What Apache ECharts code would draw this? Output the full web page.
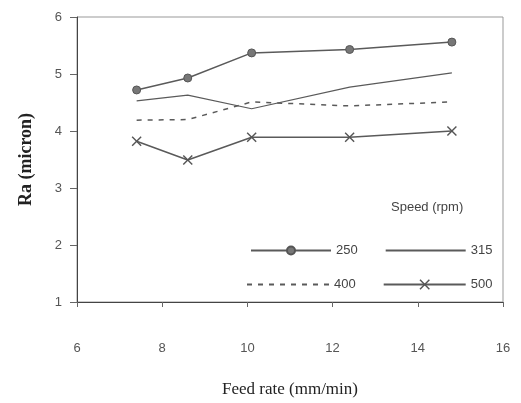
<!DOCTYPE html>
<html>
<head>
<meta charset="utf-8">
<script src="https://cdn.jsdelivr.net/npm/echarts@6/dist/echarts.min.js"></script>
<style>
  html, body { margin: 0; padding: 0; background: #fff; }
  #chart-container { width: 521px; height: 403px; }
</style>
</head>
<body>
<div id="chart-container"></div>
<script>
var dom = document.getElementById('chart-container');
var myChart = echarts.init(dom, null, { renderer: 'canvas' });

// feed rate (mm/min)
var feedRate = [7.4, 8.6, 10.1, 12.4, 14.8];
// Ra (micron) per spindle speed
var speedNames = ['250', '315', '400', '500'];
var ra250 = [4.72, 4.93, 5.37, 5.43, 5.56];
var ra315 = [4.53, 4.63, 4.39, 4.77, 5.02];
var ra400 = [4.19, 4.20, 4.51, 4.44, 4.51];
var ra500 = [3.82, 3.49, 3.89, 3.89, 4.00];

function pairs(ys) {
    return feedRate.map(function (x, i) { return [x, ys[i]]; });
}

var crossPath = 'path://M0,1L1,0L5,4L9,0L10,1L6,5L10,9L9,10L5,6L1,10L0,9L4,5Z';
var lineColor = '#5a5a5a';
var font = '"Liberation Sans", Arial, sans-serif';

var legendText = { fontFamily: font, fontSize: 13, color: '#444' };
var noMark = { opacity: 0 };

var option = {
    animation: false,
    title: {
        text: 'Speed (rpm)',
        left: 386,
        top: 196,
        textStyle: { fontFamily: font, fontSize: 13, fontWeight: 'normal', color: '#444' }
    },
    legend: [
        {
            data: [speedNames[0], { name: speedNames[1], itemStyle: noMark }],
            left: 245,
            top: 239,
            itemWidth: 80,
            itemHeight: 10,
            itemGap: 27,
            textStyle: legendText
        },
        {
            data: [{ name: speedNames[2], itemStyle: noMark }, speedNames[3]],
            left: 241,
            top: 273,
            itemWidth: 82,
            itemHeight: 13,
            itemGap: 27,
            textStyle: legendText
        }
    ],
    grid: {
        left: 77,
        right: 18,
        top: 17,
        bottom: 89,
        show: true,
        borderColor: '#999',
        borderWidth: 1
    },
    xAxis: {
        type: 'value',
        min: 6,
        max: 16,
        interval: 2,
        name: 'Feed rate (mm/min)',
        nameLocation: 'middle',
        nameGap: 79,
        nameTextStyle: { fontFamily: '"Liberation Serif", "Times New Roman", serif', fontSize: 17, color: '#222' },
        axisLine: { lineStyle: { color: '#444' } },
        axisTick: { show: true, inside: false, length: 5, lineStyle: { color: '#666' } },
        axisLabel: { margin: 40, fontFamily: font, fontSize: 13, color: '#555' },
        splitLine: { show: false }
    },
    yAxis: {
        type: 'value',
        min: 1,
        max: 6,
        interval: 1,
        name: 'Ra (micron)',
        nameLocation: 'middle',
        nameGap: 42,
        nameTextStyle: { fontFamily: '"Liberation Serif", "Times New Roman", serif', fontSize: 18, fontWeight: 'bold', color: '#222' },
        axisLine: { show: true, lineStyle: { color: '#444' } },
        axisTick: { show: true, length: 7, lineStyle: { color: '#666' } },
        axisLabel: { margin: 15, fontFamily: font, fontSize: 13, color: '#555' },
        splitLine: { show: false }
    },
    series: [
        {
            name: speedNames[0],
            type: 'line',
            data: pairs(ra250),
            symbol: 'circle',
            symbolSize: 8,
            lineStyle: { color: lineColor, width: 1.5 },
            itemStyle: { color: '#777', borderColor: '#555', borderWidth: 1 }
        },
        {
            name: speedNames[1],
            type: 'line',
            data: pairs(ra315),
            symbol: 'none',
            lineStyle: { color: lineColor, width: 1.2 },
            itemStyle: { color: lineColor }
        },
        {
            name: speedNames[2],
            type: 'line',
            data: pairs(ra400),
            symbol: 'none',
            lineStyle: { color: lineColor, width: 1.5, type: [5, 6] },
            itemStyle: { color: lineColor }
        },
        {
            name: speedNames[3],
            type: 'line',
            data: pairs(ra500),
            symbol: crossPath,
            symbolSize: 10,
            lineStyle: { color: lineColor, width: 1.5 },
            itemStyle: { color: '#555' }
        }
    ]
};

myChart.setOption(option);
window.addEventListener('resize', myChart.resize);
</script>
</body>
</html>
